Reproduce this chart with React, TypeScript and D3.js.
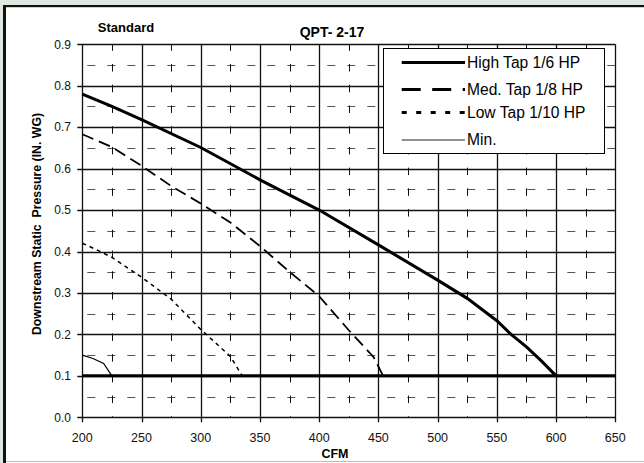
import React from "react";
import { scaleLinear, line, range } from "d3";

const W = 644;
const H = 463;

// CFM vs downstream static pressure (in. WG)
const X_TICKS = [200, 250, 300, 350, 400, 450, 500, 550, 600, 650];
const Y_TICKS = [0, 0.1, 0.2, 0.3, 0.4, 0.5, 0.6, 0.7, 0.8, 0.9];

const highTap: [number, number][] = [
  [200, 0.78], [225, 0.75], [250, 0.718], [300, 0.651], [350, 0.573],
  [400, 0.5], [450, 0.416], [500, 0.331], [525, 0.287], [550, 0.233],
  [562, 0.2], [575, 0.17], [588, 0.135], [600, 0.1],
];
const medTap: [number, number][] = [
  [200, 0.683], [225, 0.652], [250, 0.607], [275, 0.558], [300, 0.516],
  [325, 0.47], [350, 0.413], [375, 0.351], [400, 0.292], [425, 0.21],
  [446, 0.145], [454, 0.1],
];
const lowTap: [number, number][] = [
  [200, 0.42], [210, 0.407], [225, 0.386], [250, 0.338], [275, 0.285],
  [300, 0.212], [325, 0.147], [335, 0.1],
];
const minCurve: [number, number][] = [
  [200, 0.15], [209, 0.142], [218, 0.13], [225, 0.1],
];
const minFloor: [number, number][] = [
  [200, 0.1], [650, 0.1],
];

const LEGEND = [
  { label: "High Tap 1/6 HP", width: 3, dash: null, color: "#000" },
  { label: "Med. Tap 1/8 HP", width: 3, dash: "19,11.5", color: "#000" },
  { label: "Low Tap 1/10 HP", width: 3, dash: "5,9.5", color: "#000" },
  { label: "Min.", width: 1.2, dash: null, color: "#222" },
];

const FONT = "'Liberation Sans', Arial, sans-serif";
const crisp = (v: number) => Math.round(v) + 0.5;

export default function App() {
  const x = scaleLinear().domain([200, 650]).range([82.3, 615.3]);
  const y = scaleLinear().domain([0, 0.9]).range([417.3, 44.3]);
  const path = line<[number, number]>()
    .x((d) => x(d[0]))
    .y((d) => y(d[1]));

  const minorX = range(225, 650, 50);
  const minorY = range(0.05, 0.9, 0.1);
  const [x0, x1] = x.range();
  const [y0, y1] = y.range();
  const halfStep = y(0) - y(0.05);

  return (
    <div style={{ position: "fixed", left: 0, top: 0 }}>
      <svg width={W} height={H} style={{ display: "block", fontFamily: FONT }}>
        <rect width={W} height={H} fill="#fff" />
        {/* outer frame */}
        <rect x={0} y={0} width={W} height={5} fill="#dfe7e1" />
        <rect x={0} y={0} width={3} height={H} fill="#dfe7e1" />
        <rect x={3} y={5} width={W - 3} height={2.2} fill="#111" />
        <rect x={3} y={5} width={3} height={H - 5} fill="#111" />
        <line x1={6} x2={W} y1={461.5} y2={461.5} stroke="#bbb" strokeWidth={1} />

        <text x={126} y={31.5} fontSize={13} fontWeight="bold" textAnchor="middle">Standard</text>
        <text x={332} y={37} fontSize={14} fontWeight="bold" textAnchor="middle">QPT- 2-17</text>

        {/* minor grid */}
        {minorY.map((v) => (
          <line key={"my" + v} x1={x0} x2={x1} y1={crisp(y(v))} y2={crisp(y(v))}
            stroke="#555" strokeWidth={1} strokeDasharray="8,12" strokeDashoffset={-5} />
        ))}
        {minorX.map((v) => (
          <line key={"mx" + v} x1={crisp(x(v))} x2={crisp(x(v))} y1={y1} y2={y0}
            stroke="#111" strokeWidth={1} strokeDasharray={`7.5,${halfStep - 7.5}`} strokeDashoffset={1} />
        ))}
        {/* major grid */}
        {Y_TICKS.map((v) => (
          <line key={"gy" + v} x1={x0 - 5} x2={x1} y1={crisp(y(v))} y2={crisp(y(v))} stroke="#111" strokeWidth={1.3} />
        ))}
        {X_TICKS.map((v) => (
          <line key={"gx" + v} x1={crisp(x(v))} x2={crisp(x(v))} y1={y1} y2={y0 + 5} stroke="#111" strokeWidth={1.3} />
        ))}

        {/* tick labels */}
        {Y_TICKS.map((v) => (
          <text key={"ty" + v} x={71} y={y(v) + 4.3} fontSize={12} textAnchor="end" fill="#111">
            {v.toFixed(1)}
          </text>
        ))}
        {X_TICKS.map((v) => (
          <text key={"tx" + v} x={x(v)} y={441.5} fontSize={12.5} textAnchor="middle" fill="#111">
            {v}
          </text>
        ))}
        <text x={335} y={458} fontSize={12.5} fontWeight="bold" textAnchor="middle">CFM</text>
        <text transform="translate(41,224) rotate(-90)" fontSize={12.3} fontWeight="bold"
          textAnchor="middle" style={{ whiteSpace: "pre" }}>
          {"Downstream Static  Pressure (IN. WG)"}
        </text>

        {/* series */}
        <path d={path(minFloor) ?? ""} fill="none" stroke="#000" strokeWidth={3} />
        <path d={path(minCurve) ?? ""} fill="none" stroke="#000" strokeWidth={1.2} />
        <path d={path(lowTap) ?? ""} fill="none" stroke="#000" strokeWidth={1.5} strokeDasharray="4,4" />
        <path d={path(medTap) ?? ""} fill="none" stroke="#000" strokeWidth={1.8} strokeDasharray="12,6" />
        <path d={path(highTap) ?? ""} fill="none" stroke="#000" strokeWidth={3} />

        {/* legend */}
        <rect x={383.5} y={48.5} width={221} height={105} fill="#fff" stroke="#000" strokeWidth={1} />
        {LEGEND.map((d, i) => {
          const ly = [62.5, 89.5, 112.5, 140][i];
          return (
            <g key={d.label}>
              <line x1={401.7} x2={465} y1={ly} y2={ly} stroke={d.color} strokeWidth={d.width}
                strokeDasharray={d.dash ?? undefined} />
              <text x={467} y={ly + 5.4} fontSize={15.6} fill="#000">{d.label}</text>
            </g>
          );
        })}
      </svg>
    </div>
  );
}
